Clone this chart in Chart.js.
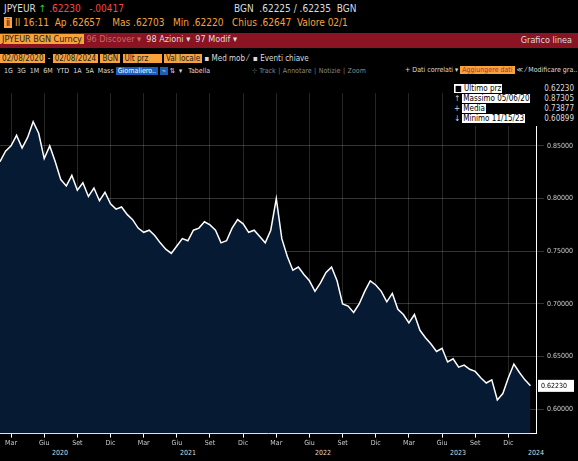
<!DOCTYPE html>
<html><head><meta charset="utf-8">
<script src="https://cdn.jsdelivr.net/npm/chart.js@4"></script>
<style>
body{margin:0;background:#000;width:578px;height:461px;overflow:hidden;font-family:"DejaVu Sans Condensed","Liberation Sans",sans-serif;color:#ddd;font-size:10px;position:relative}
.r{position:absolute;white-space:nowrap}
.o{color:#f7a23b}
.box{background:#f7a23b;color:#222;padding:0 2px}
#leg{position:absolute;left:452px;top:82px;width:120px;font-size:8px;line-height:10px;background:#000;padding:2px}
#leg span.w{background:#fff;color:#000;padding:0 1px}
</style></head><body>
<div class="r" style="left:4px;top:3px;font-size:10px">JPYEUR <span style="color:#3c3">↑</span> <span style="color:#f44">.62230</span> &nbsp;&nbsp;<span style="color:#f44">-.00417</span><span style="margin-left:110px">BGN &nbsp;.62225 / .62235 &nbsp;BGN</span></div>
<div class="r o" style="left:4px;top:17px;font-size:10px"><span class="box">ⅱ</span> Il 16:11 &nbsp;Ap .62657 &nbsp;&nbsp;&nbsp;Mas .62703 &nbsp;&nbsp;Min .62220 &nbsp;&nbsp;Chius .62647 &nbsp;Valore 02/1</div>
<div class="r" style="left:0;top:33px;width:578px;height:15px;background:#8a1422"></div>
<div class="r" style="left:0;top:34px;font-size:9px"><span class="box">JPYEUR BGN Curncy</span> <span style="color:#c66">96 Discover ▾</span> &nbsp;98 Azioni ▾ &nbsp;97 Modif ▾</div>
<div class="r" style="right:6px;top:35px;font-size:9px">Grafico linea</div>
<div class="r" style="left:0;top:54px;font-size:8px"><span class="box">02/08/2020</span> - <span class="box">02/08/2024</span> <span class="box">BGN</span> <span class="box">Ult prz &nbsp;&nbsp;&nbsp;&nbsp;</span> <span class="box">Val locale</span> ▪ Med mob ⁄ &nbsp;▪ Eventi chiave</div>
<div class="r" style="left:4px;top:67px;font-size:7px">1G &nbsp;3G &nbsp;1M &nbsp;6M &nbsp;YTD &nbsp;1A &nbsp;5A &nbsp;Mass <span style="background:#1b5fb8;color:#fff;padding:0 2px">Giornaliero..</span> <span style="background:#1b5fb8;padding:0 2px">⌁</span> ⇅ &nbsp;▾ &nbsp; Tabella <span style="margin-left:40px;color:#888">⊹ Track ∣ Annotare ∣ Notizie ∣ Zoom</span></div>
<div class="r" style="left:405px;top:66px;font-size:7px">+ Dati correlati ▾ <span class="box" style="color:#a33">Aggiungere dati</span> ≪ ⁄ Modificare gra..</div>
<div style="position:absolute;left:0;top:86px;width:578px;height:362px"><canvas id="c"></canvas></div>
<div id="leg"><span class="w">■ Ultimo prz</span><span style="float:right">0.62230</span><br>↑ <span class="w">Massimo 05/06/20</span><span style="float:right">0.87305</span><br>+ <span class="w">Media</span><span style="float:right">0.73877</span><br>↓ <span class="w">Minimo 11/15/23</span><span style="float:right">0.60899</span></div>
<div class="r" style="left:52px;top:449px;font-size:7px">2020</div>
<div class="r" style="left:180px;top:449px;font-size:7px">2021</div>
<div class="r" style="left:315px;top:449px;font-size:7px">2022</div>
<div class="r" style="left:450px;top:449px;font-size:7px">2023</div>
<div class="r" style="left:528px;top:449px;font-size:7px">2024</div>
<script>
const tickLabels={2:"Mar",8:"Giu",14:"Set",20:"Dic",26:"Mar",32:"Giu",38:"Set",44:"Dic",50:"Mar",56:"Giu",62:"Set",68:"Dic",74:"Mar",80:"Giu",86:"Set",92:"Dic"};
const yTicks=[0.60,0.65,0.70,0.75,0.80,0.85];
const prices=[0.835,0.845,0.850,0.860,0.848,0.858,0.873,0.862,0.838,0.850,0.835,0.818,0.812,0.822,0.808,0.815,0.802,0.810,0.798,0.806,0.795,0.790,
0.792,0.785,0.780,0.772,0.768,0.770,0.765,0.758,0.752,0.748,0.755,0.762,0.760,0.770,0.772,0.778,0.775,0.770,0.758,0.760,0.772,0.780,0.776,0.768,
0.770,0.764,0.758,0.770,0.800,0.762,0.745,0.732,0.735,0.728,0.722,0.712,0.720,0.730,0.735,0.722,0.700,0.698,0.692,0.700,0.712,0.722,0.718,0.712,
0.702,0.710,0.695,0.690,0.682,0.690,0.675,0.668,0.662,0.655,0.658,0.645,0.648,0.640,0.642,0.638,0.636,0.630,0.625,0.628,0.609,0.615,0.630,0.643,0.635,0.628,0.6223];
const pts=prices.map((v,i)=>({x:i,y:v}));
const F='"DejaVu Sans Condensed",sans-serif';
const lastLbl={id:'ll',afterDraw(c){const y=c.scales.y,ctx=c.ctx;const py=y.getPixelForValue(prices[prices.length-1]);ctx.fillStyle='#fff';ctx.fillRect(y.left+2,py-6,36,12);ctx.fillStyle='#000';ctx.font='7px '+F;ctx.textBaseline='middle';ctx.fillText('0.62230',y.left+5,py);}};
new Chart(document.getElementById('c'),{type:'line',data:{datasets:[{data:pts,borderColor:'#fff',borderWidth:1.5,pointRadius:0,fill:'origin',backgroundColor:'#071a33',tension:0}]},
options:{animation:false,responsive:true,maintainAspectRatio:false,layout:{padding:{top:2,left:0,right:0}},plugins:{legend:{display:false},tooltip:{enabled:false}},
scales:{x:{type:'linear',min:0,max:97,afterBuildTicks(a){a.ticks=Object.keys(tickLabels).map(k=>({value:+k}));},ticks:{color:'#ccc',font:{size:7,family:F},maxRotation:0,autoSkip:false,padding:1,callback:v=>tickLabels[v]||''},grid:{color:'rgba(255,255,255,0.15)',tickColor:'#fff',tickLength:4},border:{color:'#fff'}},
y:{position:'right',min:0.577,max:0.9,afterBuildTicks(a){a.ticks=yTicks.map(v=>({value:v}));},ticks:{color:'#ccc',font:{size:7,family:F},callback:v=>v.toFixed(5)},grid:{color:'rgba(255,255,255,0.2)'},border:{color:'#fff'},afterFit(a){a.width=42;}}}},
plugins:[lastLbl]});
</script></body></html>
